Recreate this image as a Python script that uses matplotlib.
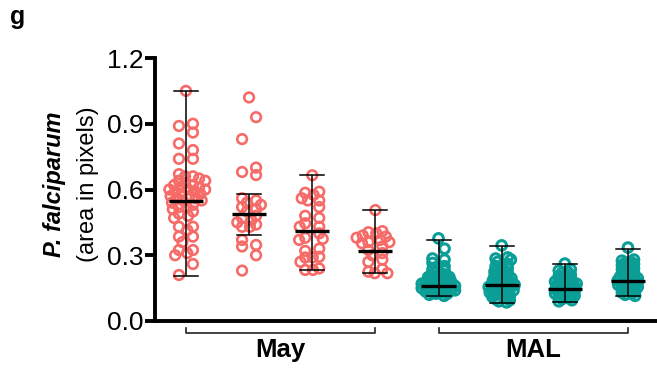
import numpy as np
import matplotlib
matplotlib.use("Agg")
import matplotlib.pyplot as plt
from matplotlib.transforms import blended_transform_factory

plt.rcParams['font.family'] = ['Liberation Sans', 'DejaVu Sans']

# ---- data -------------------------------------------------------------
may_1 = [1.05, 0.90, 0.89, 0.86, 0.81, 0.78, 0.74, 0.74, 0.67, 0.66, 0.66,
         0.65, 0.64, 0.64, 0.63, 0.62, 0.62, 0.61, 0.61, 0.60, 0.60, 0.60,
         0.59, 0.59, 0.58, 0.58, 0.57, 0.57, 0.56, 0.56, 0.55, 0.55, 0.54,
         0.53, 0.52, 0.52, 0.51, 0.50, 0.49, 0.48, 0.47, 0.43, 0.43, 0.415,
         0.385, 0.385, 0.36, 0.324, 0.324, 0.31, 0.30, 0.26, 0.21]
may_2 = [1.02, 0.93, 0.83, 0.70, 0.68, 0.666, 0.56, 0.55, 0.54, 0.53, 0.52,
         0.51, 0.50, 0.48, 0.47, 0.46, 0.45, 0.44, 0.43, 0.43, 0.37, 0.347,
         0.34, 0.30, 0.23]
may_3 = [0.665, 0.59, 0.585, 0.575, 0.56, 0.55, 0.55, 0.52, 0.48, 0.47,
         0.446, 0.43, 0.43, 0.40, 0.38, 0.375, 0.37, 0.33, 0.32, 0.293, 0.29,
         0.29, 0.27, 0.24, 0.233, 0.233]
may_4 = [0.506, 0.41, 0.405, 0.40, 0.39, 0.385, 0.38, 0.37, 0.36, 0.36,
         0.355, 0.34, 0.324, 0.31, 0.30, 0.28, 0.27, 0.237, 0.225, 0.218,
         0.218]
mal_1 = [0.377, 0.33, 0.285, 0.28, 0.265, 0.25, 0.235, 0.23, 0.22, 0.215,
         0.21, 0.21, 0.205, 0.20, 0.20, 0.195, 0.19, 0.19, 0.185, 0.185, 0.18,
         0.18, 0.175, 0.175, 0.17, 0.17, 0.17, 0.165, 0.165, 0.16, 0.16, 0.16,
         0.155, 0.155, 0.15, 0.15, 0.15, 0.145, 0.145, 0.14, 0.14, 0.14,
         0.135, 0.135, 0.13, 0.13, 0.125, 0.125, 0.12, 0.115]
mal_2 = [0.345, 0.29, 0.285, 0.28, 0.27, 0.26, 0.25, 0.24, 0.235, 0.23,
         0.225, 0.22, 0.215, 0.21, 0.205, 0.20, 0.20, 0.195, 0.19, 0.19,
         0.185, 0.18, 0.18, 0.175, 0.17, 0.17, 0.165, 0.165, 0.16, 0.16,
         0.155, 0.15, 0.15, 0.145, 0.14, 0.14, 0.135, 0.13, 0.13, 0.125,
         0.12, 0.115, 0.11, 0.105, 0.10, 0.095, 0.09, 0.085]
mal_3 = [0.262, 0.235, 0.23, 0.225, 0.22, 0.21, 0.205, 0.20, 0.195, 0.19,
         0.185, 0.18, 0.18, 0.175, 0.17, 0.17, 0.165, 0.16, 0.16, 0.155,
         0.15, 0.15, 0.145, 0.14, 0.14, 0.135, 0.13, 0.13, 0.125, 0.12,
         0.12, 0.115, 0.11, 0.105, 0.10, 0.095, 0.09]
mal_4 = [0.335, 0.28, 0.275, 0.27, 0.265, 0.26, 0.255, 0.25, 0.245, 0.24,
         0.235, 0.23, 0.225, 0.22, 0.215, 0.21, 0.205, 0.20, 0.20, 0.195,
         0.19, 0.19, 0.185, 0.18, 0.18, 0.175, 0.17, 0.17, 0.165, 0.16, 0.16,
         0.155, 0.15, 0.145, 0.14, 0.135, 0.13, 0.125, 0.12, 0.115]

groups = [may_1, may_2, may_3, may_4, mal_1, mal_2, mal_3, mal_4]
means = [0.547, 0.488, 0.412, 0.318, 0.161, 0.164, 0.145, 0.184]
err_low = [0.205, 0.394, 0.233, 0.218, 0.112, 0.082, 0.088, 0.114]
err_high = [1.05, 0.58, 0.665, 0.506, 0.37, 0.34, 0.26, 0.33]
group_names = ["May", "MAL"]
yticks = [0.0, 0.3, 0.6, 0.9, 1.2]

may_color = "#F66B68"
mal_color = "#0A9E97"
colors = [may_color] * 4 + [mal_color] * 4

# ---- figure -----------------------------------------------------------
W, H, DPI = 657, 369, 100
fig = plt.figure(figsize=(W / DPI, H / DPI), dpi=DPI)
ax = fig.add_axes([155 / W, 48 / H, 502 / W, 263 / H])
ax.set_xlim(-0.49, 7.46)
ax.set_ylim(0, 1.2)

px_per_x = 502 / (7.46 + 0.49)
px_per_y = 263 / 1.2


def swarm_offsets(values, dmin, spread):
    """Scatter x offsets (pixels) for values given in pixels.

    Points are taken from top to bottom; each one aims alternately left
    and right of the centre by `spread` and is moved to the closest
    position that keeps it at least `dmin` away from points already set.
    """
    order = np.argsort(-np.asarray(values), kind="stable")
    placed = []
    offs = np.zeros(len(values))
    for n, i in enumerate(order):
        y = values[i]
        target = spread * (1 if n % 2 else -1) if n else 0.0
        bad = []
        for (px, py) in placed:
            dy = abs(py - y)
            if dy < dmin:
                half = np.sqrt(dmin ** 2 - dy ** 2)
                bad.append((px - half, px + half))
        cands = [target, 0.0] + [b for iv in bad for b in iv]
        cands.sort(key=lambda c: (abs(c - target), abs(c)))
        for c in cands:
            if all(not (lo + 1e-9 < c < hi - 1e-9) for lo, hi in bad):
                offs[i] = c
                break
        placed.append((offs[i], y))
    return offs


for k, vals in enumerate(groups):
    v = np.asarray(vals)
    if k < 4:
        offs = swarm_offsets(v * px_per_y, 6.5, 7.0)
        lw = 1.9
    else:
        offs = swarm_offsets(v * px_per_y, 3.9, 6.0)
        lw = 2.2
    ax.scatter(k + offs / px_per_x, v, s=48, facecolors="none",
               edgecolors=colors[k], linewidths=lw, zorder=2)
    # range whisker with caps
    ax.plot([k, k], [err_low[k], err_high[k]], color="black", lw=1.1,
            zorder=3, solid_capstyle="butt")
    for yy in (err_low[k], err_high[k]):
        ax.plot([k - 0.19, k + 0.19], [yy, yy], color="black", lw=1.1,
                zorder=3)
    ax.plot([k - 0.27, k + 0.27], [means[k], means[k]], color="black",
            lw=2.4, zorder=4, solid_capstyle="butt")

# axes styling
for side in ("top", "right"):
    ax.spines[side].set_visible(False)
ax.spines["left"].set_linewidth(2.8)
ax.spines["bottom"].set_linewidth(2.8)
ax.set_yticks(yticks)
ax.set_yticklabels([f"{t:.1f}" for t in yticks])
ax.tick_params(axis="y", direction="out", length=7, width=2.8,
               labelsize=19, pad=1)
ax.set_xticks([])

# group brackets under the axis
trans = blended_transform_factory(ax.transData, ax.transAxes)
for g, (a, b) in enumerate([(0, 3), (4, 7)]):
    ax.plot([a, a, b, b], [-0.027, -0.046, -0.046, -0.027], color="#222222",
            lw=1.2, transform=trans, clip_on=False)
    ax.text((a + b) / 2, -0.11, group_names[g], transform=trans,
            ha="center", va="center", fontsize=18.5, fontweight="bold")

# y-axis title (two lines)
fig.text(55 / W, 1 - 184 / H, "P. falciparum", rotation=90, ha="center",
         va="center", fontsize=17, fontweight="bold", fontstyle="italic")
fig.text(88 / W, 1 - 184 / H, "(area in pixels)", rotation=90, ha="center",
         va="center", fontsize=17)

# panel letter
fig.text(10 / W, 1 - 17 / H, "g", ha="left", va="center", fontsize=18,
         fontweight="bold")

fig.savefig("out.png", dpi=DPI)
